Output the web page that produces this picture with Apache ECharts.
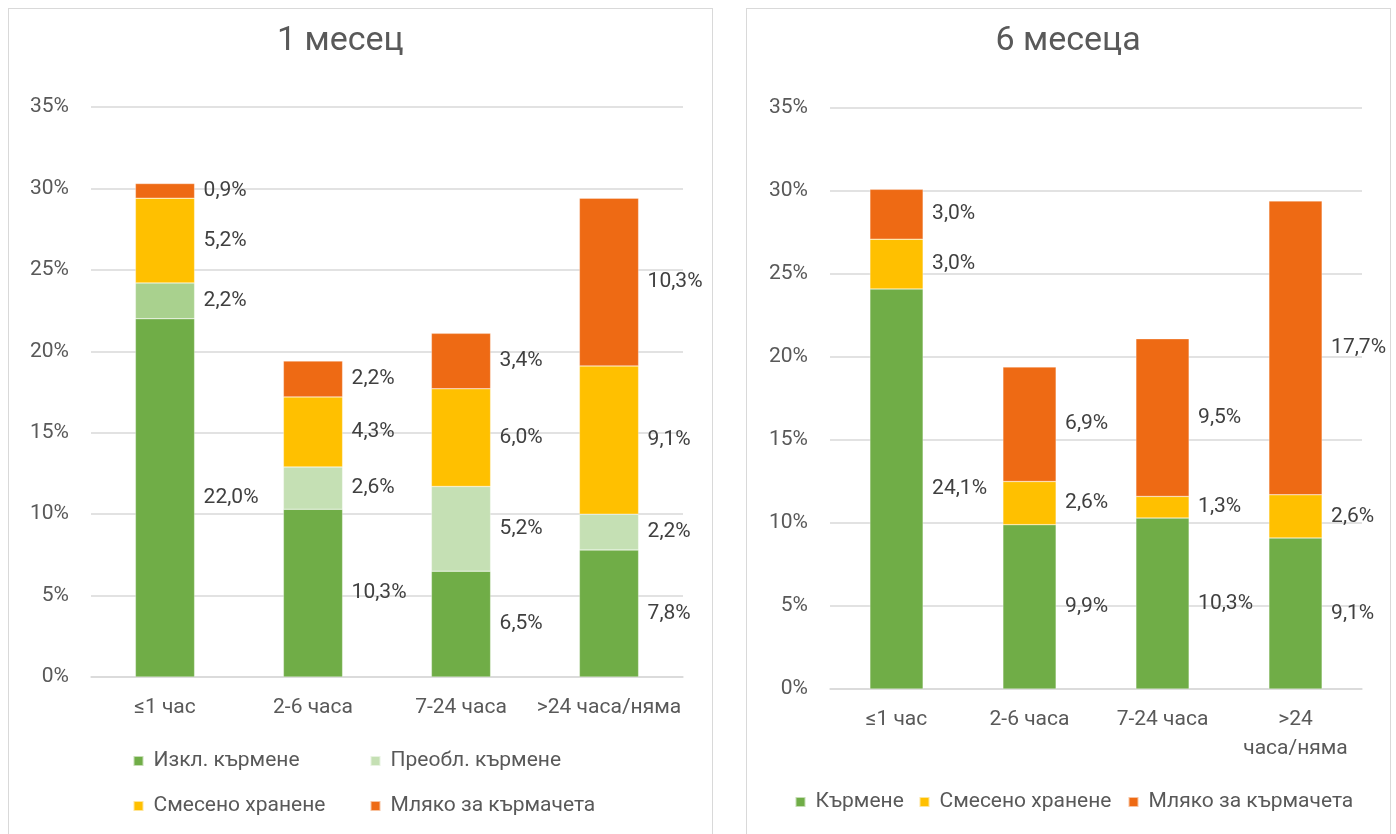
<!DOCTYPE html>
<html>
<head>
<meta charset="utf-8">
<script src="https://cdn.jsdelivr.net/npm/echarts@6/dist/echarts.min.js"></script>
<style>
  html, body { margin: 0; padding: 0; background: #ffffff; width: 1396px; height: 834px; overflow: hidden; }
  .panel { position: absolute; border: 1.5px solid #d9d9d9; box-sizing: border-box; background: #fff; }
  #left { left: 8px; top: 8px; width: 705px; height: 840px; }
  #right { left: 746px; top: 8px; width: 645px; height: 840px; }
</style>
</head>
<body>
<div id="left" class="panel"></div>
<div id="right" class="panel"></div>
<script>
// Categories: time to first breastfeeding after birth
const categories = ['≤1 час', '2-6 часа', '7-24 часа', '>24 часа/няма'];
const yTicksMax = 35;
const yTickStep = 5;

// 1 месец — feeding type shares, %
const m1Exclusive = [22.0, 10.3, 6.5, 7.8];
const m1Predominant = [2.2, 2.6, 5.2, 2.2];
const m1Mixed = [5.2, 4.3, 6.0, 9.1];
const m1Formula = [0.9, 2.2, 3.4, 10.3];

// 6 месеца — feeding type shares, %
const m6Breast = [24.1, 9.9, 10.3, 9.1];
const m6Mixed = [3.0, 2.6, 1.3, 2.6];
const m6Formula = [3.0, 6.9, 9.5, 17.7];

const FONT = 'Roboto';
const FS = 21;
const AXIS_COLOR = '#595959';
const LABEL_COLOR = '#404040';
const C_GREEN = '#70AD47';
const C_LIGHT = '#C5E0B4';
const C_LIGHT_FIRST = '#A9D18E';
const C_YELLOW = '#FFC000';
const C_ORANGE = '#EE6A14';

const fmt = v => v.toFixed(1).replace('.', ',') + '%';

function barSeries(name, values, color, perItemColors) {
  return {
    name: name,
    type: 'bar',
    stack: 'total',
    barWidth: '40%',
    data: values.map((v, i) => perItemColors && perItemColors[i]
      ? { value: v, itemStyle: { color: perItemColors[i] } }
      : v),
    itemStyle: { color: color, borderColor: 'rgba(255,255,255,0.6)', borderWidth: 0.5 },
    label: {
      show: true,
      position: 'right',
      distance: 9,
      formatter: p => fmt(p.value),
      fontFamily: FONT,
      fontSize: FS,
      color: LABEL_COLOR
    }
  };
}

function yAxis() {
  return {
    type: 'value',
    min: 0,
    max: yTicksMax,
    interval: yTickStep,
    axisLine: { show: false },
    axisTick: { show: false },
    splitLine: { lineStyle: { color: '#d9d9d9', width: 1.5 } },
    axisLabel: {
      formatter: v => v + '%',
      fontFamily: FONT, fontSize: FS, color: AXIS_COLOR, margin: 22
    }
  };
}

function legendItem(name, color, left, top) {
  return {
    data: [{ name: name, itemStyle: { color: color } }],
    left: left, top: top, padding: 0,
    icon: 'rect', itemWidth: 10, itemHeight: 10, itemGap: 0,
    selectedMode: false,
    textStyle: { fontFamily: FONT, fontSize: FS, color: AXIS_COLOR, padding: [0, 0, 0, 5] }
  };
}

function titleOf(text, left) {
  return {
    text: text, left: left, top: 10,
    textStyle: { fontFamily: FONT, fontSize: 34, fontWeight: 'normal', color: AXIS_COLOR }
  };
}

// Narrow category bands: long labels wrap at their first space
const wrapLong = v => v.length > 10 ? v.replace(' ', '\n') : v;

const leftChart = echarts.init(document.getElementById('left'), null, { renderer: 'canvas' });
leftChart.setOption({
  animation: false,
  title: titleOf('1 месец', 263),
  grid: { left: 82, top: 98, width: 592, height: 570, containLabel: false },
  xAxis: {
    type: 'category',
    data: categories,
    axisLine: { lineStyle: { color: '#d9d9d9', width: 1.5 } },
    axisTick: { show: false },
    axisLabel: { interval: 0, fontFamily: FONT, fontSize: FS, color: AXIS_COLOR, margin: 20 }
  },
  yAxis: yAxis(),
  legend: [
    legendItem('Изкл. кърмене', C_GREEN, 123.5, 741.5),
    legendItem('Преобл. кърмене', C_LIGHT, 360.5, 741.5),
    legendItem('Смесено хранене', C_YELLOW, 123.5, 786.5),
    legendItem('Мляко за кърмачета', C_ORANGE, 360.5, 786.5)
  ],
  series: [
    barSeries('Изкл. кърмене', m1Exclusive, C_GREEN),
    barSeries('Преобл. кърмене', m1Predominant, C_LIGHT, [C_LIGHT_FIRST]),
    barSeries('Смесено хранене', m1Mixed, C_YELLOW),
    barSeries('Мляко за кърмачета', m1Formula, C_ORANGE)
  ]
});

const rightChart = echarts.init(document.getElementById('right'), null, { renderer: 'canvas' });
rightChart.setOption({
  animation: false,
  title: titleOf('6 месеца', 243.5),
  grid: { left: 83, top: 99, width: 532, height: 581, containLabel: false },
  xAxis: {
    type: 'category',
    data: categories,
    axisLine: { lineStyle: { color: '#d9d9d9', width: 1.5 } },
    axisTick: { show: false },
    axisLabel: {
      interval: 0, fontFamily: FONT, fontSize: FS, color: AXIS_COLOR, margin: 16,
      lineHeight: 29, formatter: wrapLong
    }
  },
  yAxis: yAxis(),
  legend: [
    legendItem('Кърмене', C_GREEN, 47.5, 782.5),
    legendItem('Смесено хранене', C_YELLOW, 171.5, 782.5),
    legendItem('Мляко за кърмачета', C_ORANGE, 380.5, 782.5)
  ],
  series: [
    barSeries('Кърмене', m6Breast, C_GREEN),
    barSeries('Смесено хранене', m6Mixed, C_YELLOW),
    barSeries('Мляко за кърмачета', m6Formula, C_ORANGE)
  ]
});
</script>
</body>
</html>
